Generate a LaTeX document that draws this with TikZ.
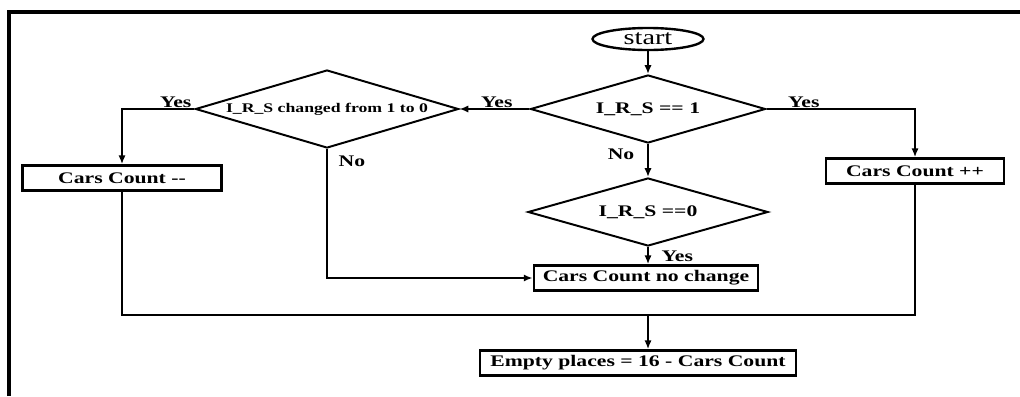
\documentclass[tikz,border=0pt]{standalone}
\usepackage{fontspec}
\setmainfont{Liberation Serif}[FakeStretch=1.34]
\usetikzlibrary{shapes.geometric,arrows.meta,positioning}

\newcommand{\flowfont}{\fontsize{11.5}{13}\selectfont\bfseries}

\begin{document}
\begin{tikzpicture}[x=0.025cm,y=-0.025cm,
  box/.style={draw,line width=2pt,font=\flowfont,minimum height=0.62cm,inner sep=2pt},
  test/.style={draw,diamond,line width=1.4pt,font=\flowfont,inner sep=0pt,aspect=3.5},
  flow/.style={line width=2pt},
  arr/.style={flow,-{Latex[length=2.2mm,width=1.8mm]}},
  lbl/.style={font=\flowfont,inner sep=1pt}]
\useasboundingbox (0,0) rectangle (1020,396);
% frame
\draw[line width=3pt] (9,396) -- (9,12) -- (1020,12);

% nodes
\node[draw,ellipse,line width=1.7pt,minimum width=2.775cm,minimum height=0.55cm,inner sep=0pt,
  font=\fontsize{15}{16}\selectfont] (start) at (648,39) {start};
\node[test,minimum width=5.875cm,minimum height=1.7cm] (irs1) at (648,109) {I\_R\_S == 1};
\node[test,minimum width=6.575cm,minimum height=1.95cm,aspect=4,
  font=\fontsize{9.4}{11}\selectfont\bfseries] (chg) at (327,109) {I\_R\_S changed from 1 to 0};
\node[test,minimum width=6cm,minimum height=1.7cm] (irs0) at (648,212) {I\_R\_S ==0};
\node[box,minimum width=4.975cm] (dec) at (122,178) {Cars Count -{}-};
\node[box,minimum width=4.45cm] (inc) at (915,171) {Cars Count ++};
\node[box,minimum width=5.6cm] (same) at (646,278) {Cars Count no change};
\node[box,minimum width=7.9cm] (empty) at (638,363) {Empty places = 16 - Cars Count};

% labels
\node[lbl,above left=0pt and 1pt of chg.west] (yes1) {Yes};
\node[lbl,above right=0pt and 0.5cm of chg.east] (yes2) {Yes};
\node[lbl,above right=0pt and 0.5cm of irs1.east] (yes3) {Yes};
\node[lbl,below left=0.08cm and 0.3cm of irs1.south] (no1) {No};
\node[lbl,below right=0.12cm and 0.25cm of chg.south] (no2) {No};
\node[lbl,below right=0.05cm and 0.3cm of irs0.south] (yes4) {Yes};

% connectors
\draw[arr] (start) -- (irs1);
\draw[arr] (irs1.west) -- (chg.east);
\draw[arr] (chg.west) -| (dec.north);
\draw[arr] (irs1.east) -| (inc.north);
\draw[arr] (irs1.south) -- (irs0.north);
\draw[arr] (irs0.south) -- (irs0.south |- same.north);
\draw[arr] (chg.south) |- (same.west);
\coordinate (merge) at (irs1.south |- 0,315);
\draw[flow] (dec.south) |- (merge) -| (inc.south);
\draw[arr] (merge) -- (merge |- empty.north);
\end{tikzpicture}
\end{document}
